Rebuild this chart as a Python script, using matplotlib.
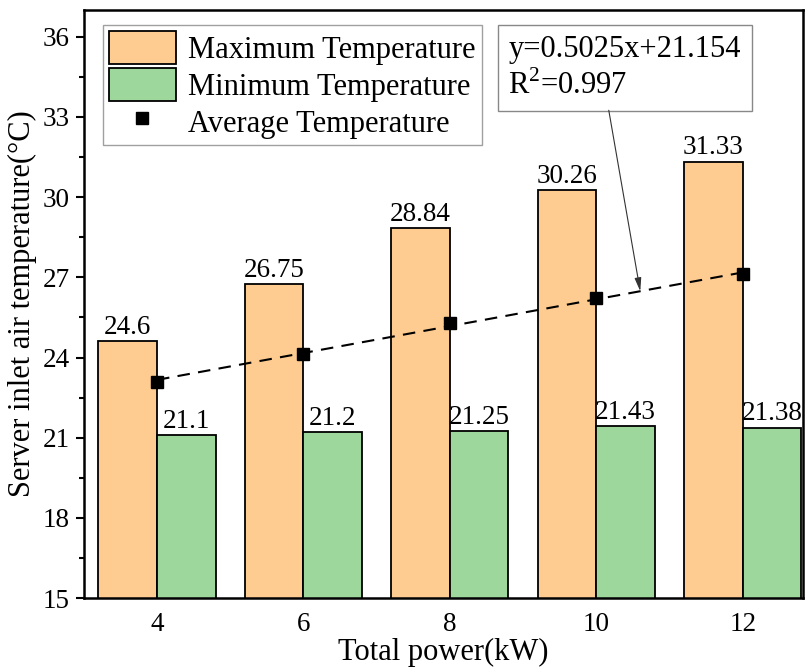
import numpy as np
import matplotlib
matplotlib.use('Agg')
import matplotlib.pyplot as plt
from matplotlib.ticker import MultipleLocator

plt.rcParams['font.family'] = ['Liberation Serif', 'DejaVu Serif']
plt.rcParams['mathtext.fontset'] = 'custom'
plt.rcParams['mathtext.rm'] = 'Liberation Serif'

# data
power = [4, 6, 8, 10, 12]
t_max = [24.6, 26.75, 28.84, 30.26, 31.33]
t_min = [21.1, 21.2, 21.25, 21.43, 21.38]
t_avg = [23.1, 24.12, 25.28, 26.22, 27.12]
slope = 0.5025
icpt = 21.154
r2 = 0.997

c_max = '#FECC91'
c_min = '#9DD79B'
fs = 22
fs_num = 19.5
w = 0.8

fig = plt.figure(figsize=(8.06, 6.69), dpi=100)
ax = fig.add_axes([0.104, 0.106, 0.892, 0.879])

x = np.array(power, dtype=float)
b1 = ax.bar(x - w/2, t_max, width=w, color=c_max, edgecolor='black', linewidth=1.3,
            label='Maximum Temperature', zorder=2)
b2 = ax.bar(x + w/2, t_min, width=w, color=c_min, edgecolor='black', linewidth=1.3,
            label='Minimum Temperature', zorder=2)

# value labels
for xi, v in zip(x - w/2, t_max):
    ax.annotate('%g' % v, (xi, v), xytext=(0, 1), textcoords='offset points',
                ha='center', va='bottom', fontsize=fs_num)
for xi, v in zip(x + w/2, t_min):
    ax.annotate('%g' % v, (xi, v), xytext=(0, 1), textcoords='offset points',
                ha='center', va='bottom', fontsize=fs_num)

# fit line + average points
xf = np.array([power[0], power[-1]], dtype=float)
ax.plot(xf, slope * xf + icpt, ls=(0, (6, 4)), color='black', lw=1.5, zorder=3)
avg, = ax.plot(x, t_avg, 's', color='black', ms=8, ls='none', label='Average Temperature', zorder=4)

# equation box
ax.text(8.8, 34.83, 'y=%.4fx+%.3f\nR$^2$=%.3f' % (slope, icpt, r2), fontsize=fs,
        ha='left', va='center', linespacing=1.25,
        bbox=dict(boxstyle='square,pad=0.35', fc='white', ec='#888888', lw=1))
ax.annotate('', xy=(10.6, slope * 10.6 + icpt), xytext=(10.17, 33.25),
            arrowprops=dict(arrowstyle='-|>,head_length=0.8,head_width=0.2',
                            color='#333333', lw=0.8, shrinkA=0, shrinkB=0))

ax.set_xlim(3.0, 12.82)
ax.set_ylim(15, 37)
ax.set_xticks(power)
ax.set_yticks(np.arange(15, 37, 3))
ax.yaxis.set_minor_locator(MultipleLocator(1.5))
ax.tick_params(axis='x', length=0, labelsize=fs_num, pad=10)
ax.tick_params(axis='y', which='major', direction='out', length=6, width=1.5, labelsize=fs_num,
               pad=4)
ax.tick_params(axis='y', which='minor', direction='out', length=3.5, width=1.5)
for s in ax.spines.values():
    s.set_linewidth(1.8)

ax.set_xlabel('Total power(kW)', fontsize=fs, labelpad=1)
ax.set_ylabel('Server inlet air temperature(°C)', fontsize=fs, labelpad=4)

leg = ax.legend(handles=[b1, b2, avg], loc='upper left', bbox_to_anchor=(0.026, 0.975),
                fontsize=fs, frameon=True, fancybox=False, edgecolor='#888888',
                handlelength=2.2, handleheight=1.3, handletextpad=0.4, borderpad=0.2,
                labelspacing=0.1, borderaxespad=0)
leg.get_frame().set_linewidth(1)

plt.savefig('out.png', dpi=100)
plt.close()
